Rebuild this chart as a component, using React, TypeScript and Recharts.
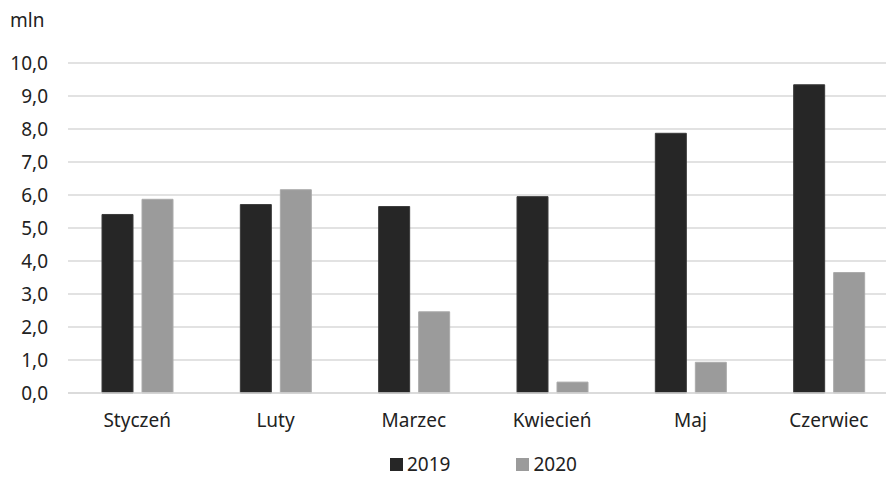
import React from "react";
import {
  BarChart,
  Bar,
  XAxis,
  YAxis,
  CartesianGrid,
  Legend,
  Label,
} from "recharts";

const months = ["Styczeń", "Luty", "Marzec", "Kwiecień", "Maj", "Czerwiec"];
const values2019 = [5.41, 5.71, 5.65, 5.95, 7.87, 9.34];
const values2020 = [5.87, 6.16, 2.46, 0.33, 0.93, 3.65];
const yTicks = [0, 1, 2, 3, 4, 5, 6, 7, 8, 9, 10];

const data = months.map((m, i) => ({
  month: m,
  y2019: values2019[i],
  y2020: values2020[i],
}));

const FONT = "'Noto Sans', 'Open Sans', sans-serif";
const DARK = "#262626";
const LIGHT = "#9b9b9b";

function LegendBox() {
  const items = [
    { label: "2019", color: DARK },
    { label: "2020", color: LIGHT },
  ];
  return (
    <div
      style={{
        display: "flex",
        justifyContent: "flex-start",
        paddingLeft: 390,
        gap: 66,
        height: 40,
        paddingTop: 14,
        boxSizing: "border-box",
        alignItems: "center",
        fontFamily: FONT,
        fontSize: 19,
        color: "#222",
      }}
    >
      {items.map((it) => (
        <div key={it.label} style={{ display: "flex", alignItems: "center" }}>
          <span
            style={{
              display: "inline-block",
              width: 13,
              height: 13,
              background: it.color,
              marginRight: 4,
            }}
          />
          {it.label}
        </div>
      ))}
    </div>
  );
}

export default function App() {
  return (
    <div
      style={{
        position: "fixed",
        left: 0,
        top: 0,
        width: 886,
        height: 477,
        overflow: "hidden",
        background: "#fff",
      }}
    >
      <BarChart
        width={898}
        height={477}
        data={data}
        margin={{ top: 63, right: 0, left: 0, bottom: 0 }}
        barGap={9}
        barCategoryGap={34}
      >
        <CartesianGrid
          vertical={false}
          stroke="#d9d9d9"
          strokeWidth={1.5}
        />
        <XAxis
          dataKey="month"
          height={44}
          axisLine={{ stroke: "#d9d9d9", strokeWidth: 1.5 }}
          tickLine={false}
          tickMargin={15}
          tick={{ fontFamily: FONT, fontSize: 19, fill: "#222" }}
        />
        <YAxis
          width={68}
          domain={[0, 10]}
          ticks={yTicks}
          interval={0}
          axisLine={false}
          tickLine={false}
          tickSize={0}
          tickMargin={20}
          tickFormatter={(v: number) => v.toFixed(1).replace(".", ",")}
          tick={{ fontFamily: FONT, fontSize: 19, fill: "#222" }}
        >
          <Label
            content={() => (
              <text
                x={10}
                y={27}
                fontFamily={FONT}
                fontSize={19}
                fill="#222"
              >
                mln
              </text>
            )}
          />
        </YAxis>
        <Legend
          verticalAlign="bottom"
          height={40}
          content={() => <LegendBox />}
        />
        <Bar
          dataKey="y2019"
          name="2019"
          fill={DARK}
          stroke="#3a3a3a"
          isAnimationActive={false}
        />
        <Bar
          dataKey="y2020"
          name="2020"
          fill={LIGHT}
          stroke="#aaaaaa"
          isAnimationActive={false}
        />
      </BarChart>
    </div>
  );
}
